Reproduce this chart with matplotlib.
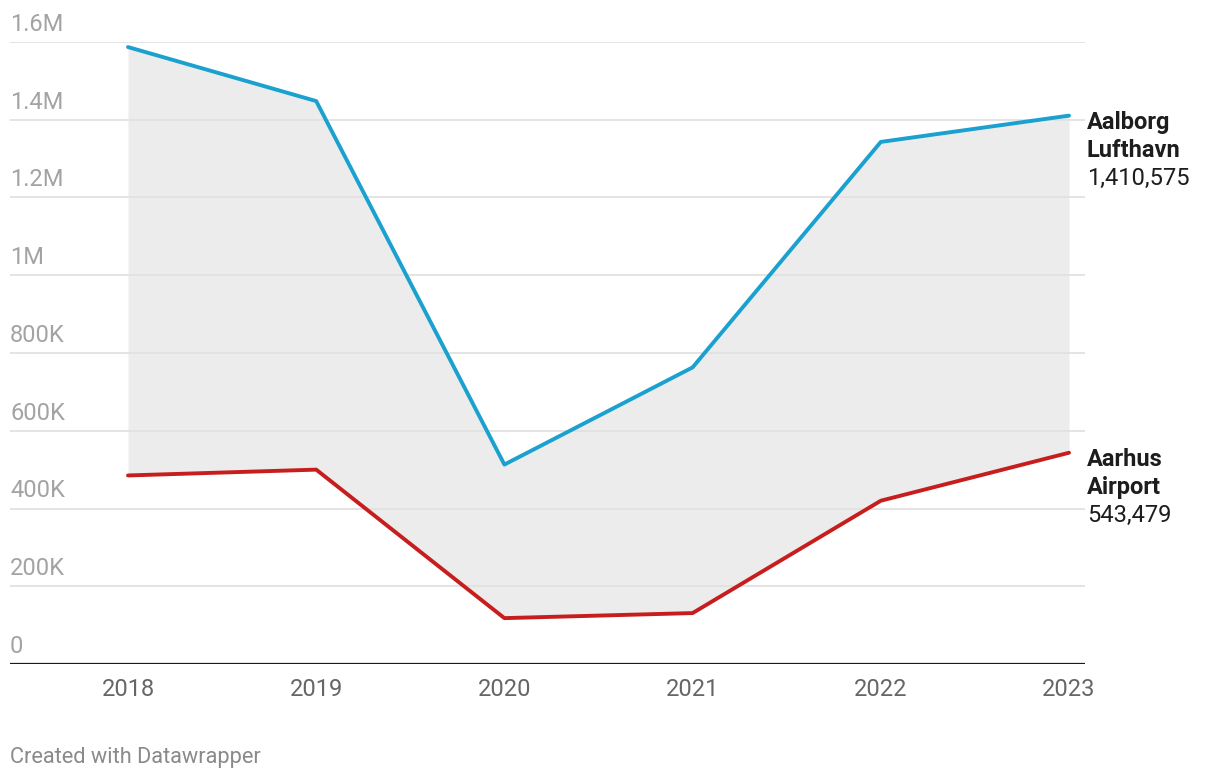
import matplotlib
matplotlib.use("Agg")
import matplotlib.pyplot as plt

plt.rcParams['font.family'] = ['Roboto', 'DejaVu Sans']

years = [2018, 2019, 2020, 2021, 2022, 2023]
aalborg = [1587000, 1448000, 513000, 763000, 1343000, 1410575]
aarhus = [485000, 500000, 118000, 131000, 420000, 543479]
yticks = [0, 200000, 400000, 600000, 800000, 1000000, 1200000, 1400000, 1600000]
ytick_labels = ["0", "200K", "400K", "600K", "800K", "1M", "1.2M", "1.4M", "1.6M"]

W, H = 1220, 780
fig = plt.figure(figsize=(W / 100, H / 100), dpi=100)
left_px, right_px, top_px, bottom_px = 10, 1085, 42, 664
ax = fig.add_axes([left_px / W, 1 - bottom_px / H, (right_px - left_px) / W, (bottom_px - top_px) / H])

per_year = (1069 - 128) / 5
x0 = 2018 - (128 - left_px) / per_year
x1 = 2023 + (right_px - 1069) / per_year
ax.set_xlim(x0, x1)
ax.set_ylim(0, 1600000)

for s in ax.spines.values():
    s.set_visible(False)
ax.set_yticks([])
ax.set_xticks([])

for v, lab in zip(yticks, ytick_labels):
    if v > 0:
        ax.axhline(v, color='#e2e2e2', lw=1.3, zorder=1)
    ax.annotate(lab, xy=(0, v), xycoords=('axes fraction', 'data'),
                xytext=(0, 6), textcoords='offset pixels',
                ha='left', va='bottom', fontsize=17, color='#a3a3a3')

ax.axhline(0, color='#1a1a1a', lw=1.6, zorder=4)

ax.fill_between(years, aarhus, aalborg, color='#ececec', lw=0, zorder=0)
blue = '#1aa1cf'
red = '#c71e1d'
ax.plot(years, aalborg, color=blue, lw=2.8, zorder=3, solid_joinstyle='round', solid_capstyle='round')
ax.plot(years, aarhus, color=red, lw=2.8, zorder=3, solid_joinstyle='round', solid_capstyle='round')

for y in years:
    ax.annotate(str(y), xy=(y, 0), xycoords='data', xytext=(0, -14), textcoords='offset pixels',
                ha='center', va='top', fontsize=17, color='#666666')

def end_label(name_lines, value, yval):
    for i, ln in enumerate(name_lines):
        ax.annotate(ln, xy=(2023, yval), xycoords='data', xytext=(18, -7 - 28 * i), textcoords='offset pixels',
                    ha='left', va='center', fontsize=17, fontweight='bold', color='#1d1d1d',
                    annotation_clip=False)
    ax.annotate(f"{value:,}", xy=(2023, yval), xycoords='data',
                xytext=(18, -7 - 28 * len(name_lines)), textcoords='offset pixels',
                ha='left', va='center', fontsize=17, color='#1d1d1d', annotation_clip=False)

end_label(["Aalborg", "Lufthavn"], aalborg[-1], aalborg[-1])
end_label(["Aarhus", "Airport"], aarhus[-1], aarhus[-1])

fig.text(10 / W, 1 - 757 / H, "Created with Datawrapper", ha='left', va='center', fontsize=15.7, color='#8a8a8a')

fig.savefig("out.png", dpi=100)
